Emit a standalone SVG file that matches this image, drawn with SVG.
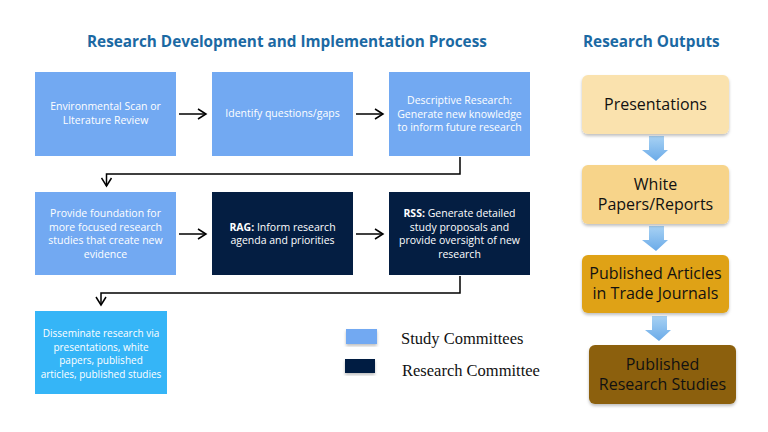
<svg xmlns="http://www.w3.org/2000/svg" width="768" height="432" viewBox="0 0 768 432">
<defs>
<style>
.title{font-family:"Open Sans","Liberation Sans",sans-serif;font-weight:bold;font-size:15.3px;fill:#1B69A3}
.bt{font-family:"Open Sans","Liberation Sans",sans-serif;font-size:10.5px;fill:#ffffff;text-anchor:middle}
.light{fill:#72A9F2}
.dark{fill:#041E42}
.conn{fill:none;stroke:#000;stroke-width:1.5}
.out{font-family:"Open Sans","Liberation Sans",sans-serif;font-size:16px;fill:#111;text-anchor:middle}
.leg{font-family:"Liberation Serif",serif;font-size:16.5px;fill:#111}
.bar{fill:url(#ag)}
</style>
<linearGradient id="ag" x1="0" y1="0" x2="0" y2="1">
<stop offset="0" stop-color="#A8D2F4"/>
<stop offset="1" stop-color="#6AAAE8"/>
</linearGradient>
<marker id="ah" markerWidth="12" markerHeight="12" refX="10" refY="6" orient="auto" markerUnits="userSpaceOnUse">
<path d="M2,1 L10,6 L2,11" fill="none" stroke="#000" stroke-width="1.5"/>
</marker>
<filter id="sh" x="-10%" y="-10%" width="120%" height="130%">
<feDropShadow dx="0" dy="2" stdDeviation="1.5" flood-color="#000" flood-opacity="0.25"/>
</filter>
</defs>
<rect width="768" height="432" fill="#ffffff"/>
<text class="title" x="87" y="47">Research Development and Implementation Process</text>
<text class="title" x="583" y="47">Research Outputs</text>

<g id="n1"><rect class="light" x="35" y="72" width="141" height="84"/>
<text class="bt" x="105.5" y="110">Environmental Scan or</text><text class="bt" x="105.5" y="124">LIterature Review</text></g>
<g id="n2"><rect class="light" x="212" y="72" width="141" height="84"/>
<text class="bt" x="282.5" y="117">Identify questions/gaps</text></g>
<g id="n3"><rect class="light" x="389" y="72" width="141" height="84"/>
<text class="bt" x="459.5" y="104">Descriptive Research:</text><text class="bt" x="459.5" y="117.5">Generate new knowledge</text><text class="bt" x="459.5" y="131">to inform future research</text></g>

<g id="n4"><rect class="light" x="35" y="192" width="141" height="83"/>
<text class="bt" x="105.5" y="217">Provide foundation for</text><text class="bt" x="105.5" y="230.5">more focused research</text><text class="bt" x="105.5" y="244">studies that create new</text><text class="bt" x="105.5" y="257.5">evidence</text></g>
<g id="n5"><rect class="dark" x="212" y="192" width="141" height="83"/>
<text class="bt" x="282.5" y="230.5"><tspan font-weight="bold">RAG:</tspan> Inform research</text><text class="bt" x="282.5" y="244">agenda and priorities</text></g>
<g id="n6"><rect class="dark" x="389" y="192" width="141" height="83"/>
<text class="bt" x="459.5" y="217"><tspan font-weight="bold">RSS:</tspan> Generate detailed</text><text class="bt" x="459.5" y="230.5">study proposals and</text><text class="bt" x="459.5" y="244">provide oversight of new</text><text class="bt" x="459.5" y="257.5">research</text></g>

<g id="n7"><rect x="35" y="311" width="132" height="83" fill="#35B5F7"/>
<text class="bt" style="font-size:10px" x="101" y="337">Disseminate research via</text><text class="bt" style="font-size:10px" x="101" y="350.5">presentations, white</text><text class="bt" style="font-size:10px" x="101" y="364">papers, published</text><text class="bt" style="font-size:10px" x="101" y="377.5">articles, published studies</text></g>

<g id="connectors">
<line class="conn" x1="179" y1="114" x2="206" y2="114" marker-end="url(#ah)"/>
<line class="conn" x1="356" y1="114" x2="383" y2="114" marker-end="url(#ah)"/>
<line class="conn" x1="179" y1="234" x2="206" y2="234" marker-end="url(#ah)"/>
<line class="conn" x1="356" y1="234" x2="383" y2="234" marker-end="url(#ah)"/>
<polyline class="conn" points="460,157 460,174 106.5,174 106.5,186" marker-end="url(#ah)"/>
<polyline class="conn" points="460,276 460,293 101,293 101,305" marker-end="url(#ah)"/>
<path class="bar" d="M649,136 H664 V150 H668 L656,161 L642,150 H649 Z"/>
<path class="bar" d="M649,226 H664 V240 H668 L656,251 L642,240 H649 Z"/>
<path class="bar" d="M652,316 H667 V330 H671 L659,341 L645,330 H652 Z"/>
</g>

<g id="o1"><rect x="582" y="75" width="147" height="59" rx="6" fill="#FAE2AE" filter="url(#sh)"/>
<text class="out" x="655.5" y="110">Presentations</text></g>
<g id="o2"><rect x="582" y="165" width="147" height="59" rx="6" fill="#F7D48A" filter="url(#sh)"/>
<text class="out" x="655.5" y="190">White</text><text class="out" x="655.5" y="210">Papers/Reports</text></g>
<g id="o3"><rect x="582" y="255" width="147" height="58" rx="6" fill="#DFA216" filter="url(#sh)"/>
<text class="out" x="655.5" y="279">Published Articles</text><text class="out" x="655.5" y="299">in Trade Journals</text></g>
<g id="o4"><rect x="589" y="345" width="147" height="59" rx="6" fill="#8C6010" filter="url(#sh)"/>
<text class="out" x="662.5" y="370">Published</text><text class="out" x="662.5" y="390">Research Studies</text></g>

<g id="legend">
<rect x="346" y="329" width="31" height="15" fill="#72A9F2" filter="url(#sh)"/>
<rect x="345" y="359" width="30" height="14" fill="#041E42" filter="url(#sh)"/>
<text class="leg" x="401" y="344">Study Committees</text>
<text class="leg" x="402" y="376">Research Committee</text>
</g>
</svg>
